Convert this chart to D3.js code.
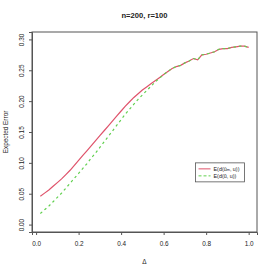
<!DOCTYPE html>
<html><head><meta charset="utf-8">
<script src="https://cdn.jsdelivr.net/npm/d3@7"></script>
<style>body{margin:0;background:#fff}svg{display:block}text{font-family:"Liberation Sans",Arial,sans-serif}</style>
</head><body>
<script>
const deltaVals = [0.02,0.04,0.06,0.08,0.10,0.12,0.14,0.16,0.18,0.20,0.22,0.24,0.26,0.28,0.30,0.32,0.34,0.36,0.38,0.40,0.42,0.44,0.46,0.48,0.50,0.52,0.54,0.56,0.58,0.60,0.62,0.64,0.66,0.68,0.70,0.72,0.74,0.76,0.78,0.80,0.82,0.84,0.86,0.88,0.90,0.92,0.94,0.96,0.98,1.00];
const errHat = [0.046,0.051,0.056,0.062,0.068,0.074,0.081,0.088,0.096,0.104,0.112,0.120,0.128,0.136,0.144,0.152,0.160,0.168,0.176,0.184,0.192,0.199,0.206,0.212,0.218,0.223,0.228,0.233,0.238,0.243,0.248,0.253,0.256,0.258,0.262,0.265,0.269,0.267,0.275,0.276,0.278,0.280,0.284,0.285,0.285,0.287,0.288,0.289,0.289,0.287];
const errTilde = [0.018,0.024,0.030,0.037,0.044,0.051,0.059,0.067,0.075,0.083,0.091,0.099,0.108,0.116,0.125,0.134,0.143,0.152,0.161,0.170,0.179,0.187,0.195,0.203,0.210,0.217,0.224,0.231,0.237,0.243,0.248,0.253,0.256,0.258,0.262,0.265,0.269,0.267,0.275,0.276,0.278,0.280,0.284,0.285,0.285,0.287,0.288,0.289,0.289,0.287];
const xTicks = [0.0,0.2,0.4,0.6,0.8,1.0];
const yTicks = [0.00,0.05,0.10,0.15,0.20,0.25,0.30];
const titleText = "n=200, r=100";
const xLabel = "Δ";
const yLabel = "Expected Error";
const colHat = "#DF536B", colTilde = "#61D04F";

const W=273,H=273;
const L=32,R=257,T=32,B=232;
const svg=d3.select("body").append("svg").attr("width",W).attr("height",H);
const x=d3.scaleLinear().domain([-0.0192,1.0392]).range([L,R]);
const y=d3.scaleLinear().domain([-0.012,0.312]).range([B,T]);
const axisCol="#555";

svg.append("rect").attr("x",L).attr("y",T).attr("width",R-L).attr("height",B-T)
  .attr("fill","none").attr("stroke",axisCol).attr("stroke-width",1);

const xa=svg.append("g").attr("transform",`translate(0,${B})`)
  .call(d3.axisBottom(x).tickValues(xTicks).tickFormat(d3.format(".1f")).tickSize(3).tickPadding(6));
const ya=svg.append("g").attr("transform",`translate(${L},0)`)
  .call(d3.axisLeft(y).tickValues(yTicks).tickFormat(d3.format(".2f")).tickSize(3).tickPadding(4));
[xa,ya].forEach(g=>{g.selectAll("path").attr("stroke",axisCol);g.selectAll("line").attr("stroke",axisCol);
  g.selectAll("text").attr("fill","#222").style("font-size","6.4px").style("font-family","Liberation Sans, Arial, sans-serif");});
ya.selectAll(".tick text").attr("text-anchor","middle").attr("dy",null).attr("x",null)
  .attr("transform","translate(-11,0) rotate(-90)").attr("dominant-baseline","central");

svg.append("text").attr("x",(L+R)/2).attr("y",18).attr("text-anchor","middle")
  .style("font-size","7.6px").style("font-weight","bold").attr("fill","#222").text(titleText);
svg.append("text").attr("x",(L+R)/2).attr("y",264).attr("text-anchor","middle")
  .style("font-size","6.4px").attr("fill","#222").text(xLabel);
svg.append("text").attr("transform",`translate(8,${(T+B)/2}) rotate(-90)`).attr("text-anchor","middle")
  .style("font-size","6.4px").attr("fill","#222").text(yLabel);

const line=(vals)=>d3.line().x((d,i)=>x(deltaVals[i])).y(d=>y(d))(vals);
svg.append("path").attr("d",line(errHat)).attr("fill","none").attr("stroke",colHat).attr("stroke-width",1.2);
svg.append("path").attr("d",line(errTilde)).attr("fill","none").attr("stroke",colTilde).attr("stroke-width",1.2).attr("stroke-dasharray","2.5,3");

// legend
const lx=x(0.75), ly=y(0.1);
const lg=svg.append("g");
lg.append("rect").attr("x",lx).attr("y",ly).attr("width",49).attr("height",19).attr("fill","#fff").attr("stroke",axisCol).attr("stroke-width",0.8);
const items=[{c:colHat,d:null,main:"E(d(û",sub:"m",rest:", u))"},{c:colTilde,d:"3,2",main:"E(d(ũ",sub:"",rest:", u))"}];
items.forEach((it,i)=>{
  const yy=ly+6+i*7;
  lg.append("line").attr("x1",lx+3).attr("x2",lx+15).attr("y1",yy).attr("y2",yy).attr("stroke",it.c).attr("stroke-width",1).attr("stroke-dasharray",it.d);
  const t=lg.append("text").attr("x",lx+18).attr("y",yy).attr("dominant-baseline","central").style("font-size","5.4px").attr("fill","#222");
  t.append("tspan").text(it.main);
  if(it.sub) t.append("tspan").attr("dy",1.5).style("font-size","3.8px").text(it.sub);
  t.append("tspan").attr("dy",it.sub?-1.5:0).text(it.rest);
});
</script>
</body></html>
